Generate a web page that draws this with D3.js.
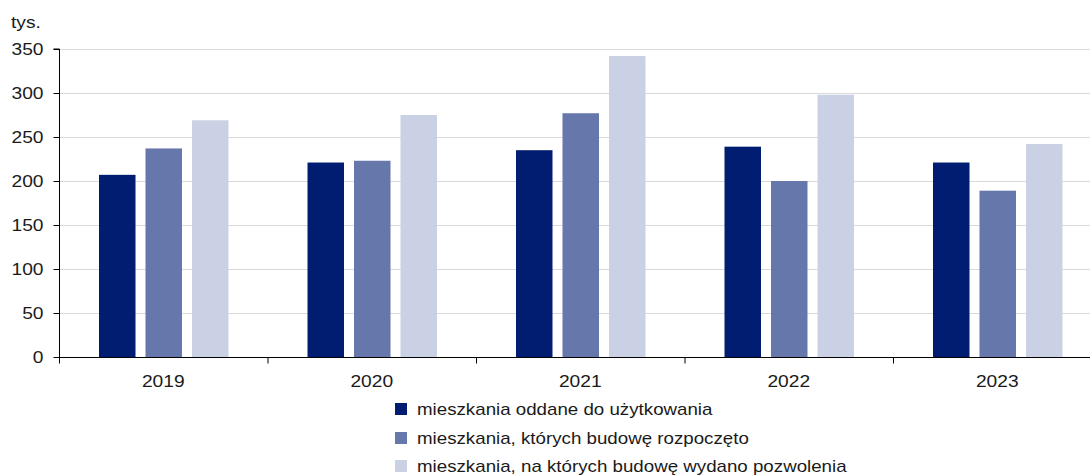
<!DOCTYPE html>
<html><head><meta charset="utf-8">
<script src="https://cdn.jsdelivr.net/npm/d3@7"></script>
<style>body{margin:0;background:#fff}svg{display:block;font-family:"Liberation Sans",Arial,sans-serif}</style>
</head><body>
<svg id="c" width="1091" height="476"></svg>
<script>
const years = ["2019","2020","2021","2022","2023"];
const seriesNames = ["mieszkania oddane do użytkowania","mieszkania, których budowę rozpoczęto","mieszkania, na których budowę wydano pozwolenia"];
const completed = [207, 221, 235, 239, 221];
const started = [237, 223, 277, 200, 189];
const permits = [269, 275, 342, 298, 242];
const yTicks = [0,50,100,150,200,250,300,350];
const colors = ["#001d72","#6677ab","#cbd1e4"];

const svg = d3.select("#c");
const L=59, R=1090, T=49, B=357;
const x = d3.scaleBand().domain(years).range([L,1101.5]).paddingInner(0).paddingOuter(0);
const y = d3.scaleLinear().domain([0,350]).range([B,T]);
const inner = d3.scaleBand().domain([0,1,2]).range([40, 169.5]).paddingInner(0.215).paddingOuter(0);
const data = [completed, started, permits];
const textCol = "#1a1a1a";

// gridlines
svg.append("g").selectAll("line").data(yTicks.filter(d=>d>0)).join("line")
  .attr("x1",L).attr("x2",R).attr("y1",d=>y(d)+0.5).attr("y2",d=>y(d)+0.5)
  .attr("stroke","#d9d9d9").attr("stroke-width",1);

// bars
years.forEach((yr,i)=>{
  data.forEach((s,j)=>{
    svg.append("rect").attr("x",x(yr)+inner(j)).attr("width",inner.bandwidth())
      .attr("y",y(s[i])).attr("height",B-y(s[i])).attr("fill",colors[j]);
  });
});

// y axis
const ya = d3.axisLeft(y).tickValues(yTicks).tickSize(6).tickPadding(10);
const gy = svg.append("g").attr("transform",`translate(${L+0.5},0)`).call(ya);
gy.select(".domain").attr("stroke","#000").attr("d",`M-6,${T}H0V${B}`);
gy.selectAll(".tick line").attr("stroke","#000");
gy.selectAll(".tick text").attr("font-size",16).attr("fill",textCol)
  .attr("font-family","Liberation Sans, Arial, sans-serif")
  .attr("x",0).attr("transform","translate(-16,0) scale(1.2,1)");

// x axis
const gx = svg.append("g").attr("transform",`translate(0,${B+0.5})`);
gx.append("line").attr("x1",L).attr("x2",R).attr("stroke","#000");
gx.selectAll("line.t").data(d3.range(years.length)).join("line").attr("class","t")
  .attr("x1",i=>L+i*x.bandwidth()+0.5).attr("x2",i=>L+i*x.bandwidth()+0.5)
  .attr("y1",0).attr("y2",6).attr("stroke","#000");
gx.selectAll("text").data(years).join("text")
  .attr("text-anchor","middle")
  .attr("transform",d=>`translate(${x(d)+x.bandwidth()/2},29.5) scale(1.2,1)`)
  .attr("font-size",16).attr("fill",textCol).text(d=>d);

svg.append("text").attr("transform","translate(11,27.5) scale(1.2,1)")
  .attr("font-size",16).attr("fill",textCol).text("tys.");

// legend
const lg = svg.append("g").attr("transform","translate(395,0)");
seriesNames.forEach((n,j)=>{
  const yy = [409,438,466][j];
  lg.append("rect").attr("x",0).attr("y",yy-6).attr("width",12).attr("height",12).attr("fill",colors[j]);
  lg.append("text").attr("transform",`translate(22,${yy+5.5}) scale(1.17,1)`)
    .attr("font-size",16).attr("fill",textCol).text(n);
});
</script>
</body></html>
